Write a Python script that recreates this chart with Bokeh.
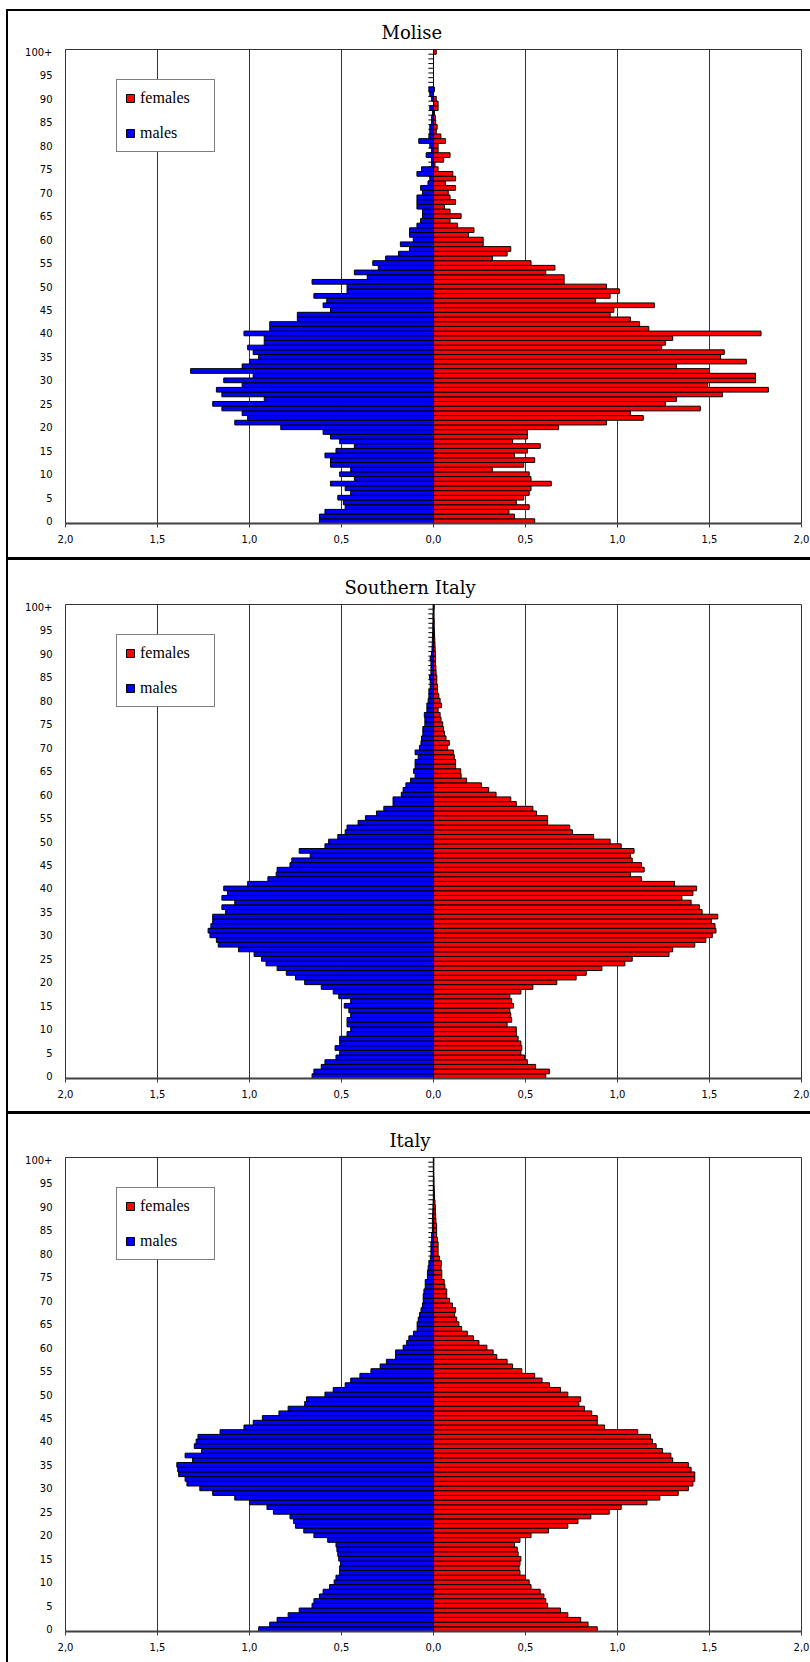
from bokeh.plotting import figure
from bokeh.models import Span, Legend, LegendItem, FixedTicker, ColumnDataSource, Range1d, Div, Spacer
from bokeh.layouts import column, row
from bokeh.embed import file_html
from bokeh.resources import INLINE

# ---------------- data ----------------
ages = list(range(101))
age_ticks = list(range(0, 101, 5))
age_tick_overrides = {100: "100+"}
x_ticks = [-2.0, -1.5, -1.0, -0.5, 0.0, 0.5, 1.0, 1.5, 2.0]
x_tick_labels = ["2,0", "1,5", "1,0", "0,5", "0,0", "0,5", "1,0", "1,5", "2,0"]
panel_titles = ["Molise", "Southern Italy", "Italy"]
series_labels = ["females", "males"]

molise_males = [
    0.62, 0.62, 0.59, 0.48, 0.49, 0.52, 0.45, 0.48, 0.56, 0.43,
    0.51, 0.45, 0.56, 0.56, 0.59, 0.53, 0.43, 0.51, 0.56, 0.60,
    0.83, 1.08, 1.01, 1.04, 1.15, 1.20, 0.92, 1.15, 1.18, 1.04,
    1.14, 0.98, 1.32, 1.04, 1.00, 0.95, 0.98, 1.01, 0.92, 0.92,
    1.03, 0.89, 0.89, 0.74, 0.74, 0.56, 0.60, 0.58, 0.65, 0.47,
    0.47, 0.66, 0.36, 0.43, 0.30, 0.33, 0.26, 0.19, 0.13, 0.18,
    0.11, 0.13, 0.13, 0.09, 0.07, 0.06, 0.06, 0.09, 0.09, 0.09,
    0.06, 0.07, 0.03, 0.02, 0.09, 0.065, 0.01, 0.01, 0.04, 0.01,
    0.02, 0.08, 0.025, 0.02, 0.02, 0.01, 0.01, 0.005, 0.02, 0.0,
    0.01, 0.02, 0.025, 0.0, 0.0, 0.0, 0.0, 0.0, 0.0, 0.0,
    0.0]
molise_females = [
    0.55, 0.44, 0.41, 0.52, 0.45, 0.49, 0.52, 0.53, 0.64, 0.53,
    0.52, 0.32, 0.49, 0.55, 0.44, 0.51, 0.58, 0.43, 0.51, 0.51,
    0.68, 0.94, 1.14, 1.07, 1.45, 1.26, 1.32, 1.57, 1.82, 1.49,
    1.75, 1.75, 1.50, 1.32, 1.70, 1.56, 1.58, 1.24, 1.26, 1.30,
    1.78, 1.17, 1.12, 1.07, 0.96, 0.98, 1.20, 0.88, 0.96, 1.01,
    0.94, 0.71, 0.71, 0.61, 0.66, 0.53, 0.32, 0.40, 0.42, 0.27,
    0.27, 0.19, 0.22, 0.13, 0.09, 0.15, 0.09, 0.06, 0.12, 0.09,
    0.08, 0.12, 0.065, 0.12, 0.105, 0.025, 0.008, 0.055, 0.09, 0.025,
    0.025, 0.065, 0.04, 0.015, 0.02, 0.012, 0.01, 0.005, 0.025, 0.025,
    0.015, 0.0, 0.005, 0.0, 0.0, 0.0, 0.0, 0.0, 0.0, 0.0,
    0.015]

south_males = [
    0.66, 0.65, 0.61, 0.59, 0.53, 0.51, 0.535, 0.51, 0.51, 0.47,
    0.45, 0.47, 0.47, 0.45, 0.46, 0.485, 0.45, 0.515, 0.545, 0.61,
    0.70, 0.75, 0.80, 0.85, 0.91, 0.935, 0.975, 1.06, 1.17, 1.18,
    1.215, 1.225, 1.21, 1.20, 1.20, 1.13, 1.15, 1.08, 1.15, 1.12,
    1.14, 1.01, 0.90, 0.855, 0.85, 0.78, 0.77, 0.67, 0.73, 0.59,
    0.57, 0.52, 0.48, 0.47, 0.41, 0.37, 0.31, 0.27, 0.22, 0.22,
    0.175, 0.165, 0.15, 0.125, 0.10, 0.108, 0.10, 0.10, 0.083, 0.10,
    0.076, 0.068, 0.065, 0.058, 0.058, 0.047, 0.047, 0.05, 0.036, 0.036,
    0.029, 0.025, 0.025, 0.018, 0.018, 0.022, 0.014, 0.014, 0.014, 0.018,
    0.011, 0.008, 0.007, 0.006, 0.005, 0.004, 0.004, 0.003, 0.003, 0.002,
    0.002]
south_females = [
    0.61, 0.63, 0.555, 0.51, 0.495, 0.475, 0.48, 0.475, 0.46, 0.45,
    0.45, 0.40, 0.425, 0.42, 0.415, 0.435, 0.425, 0.415, 0.475, 0.54,
    0.67, 0.775, 0.83, 0.915, 1.04, 1.08, 1.28, 1.30, 1.42, 1.48,
    1.515, 1.535, 1.53, 1.51, 1.545, 1.46, 1.445, 1.40, 1.35, 1.41,
    1.43, 1.31, 1.13, 1.07, 1.145, 1.13, 1.08, 1.07, 1.09, 1.02,
    0.96, 0.87, 0.755, 0.74, 0.62, 0.62, 0.56, 0.54, 0.45, 0.42,
    0.34, 0.30, 0.26, 0.18, 0.15, 0.148, 0.12, 0.12, 0.113, 0.108,
    0.077, 0.086, 0.068, 0.06, 0.054, 0.05, 0.041, 0.036, 0.025, 0.043,
    0.036, 0.029, 0.022, 0.022, 0.018, 0.018, 0.014, 0.013, 0.011, 0.011,
    0.011, 0.009, 0.008, 0.007, 0.006, 0.005, 0.004, 0.004, 0.003, 0.003,
    0.004]

italy_males = [
    0.95, 0.89, 0.85, 0.79, 0.73, 0.66, 0.65, 0.62, 0.60, 0.565,
    0.54, 0.53, 0.51, 0.51, 0.505, 0.515, 0.52, 0.525, 0.53, 0.575,
    0.65, 0.705, 0.75, 0.76, 0.78, 0.87, 0.905, 1.00, 1.08, 1.20,
    1.27, 1.34, 1.35, 1.385, 1.39, 1.395, 1.31, 1.35, 1.26, 1.30,
    1.29, 1.28, 1.16, 1.03, 0.98, 0.93, 0.84, 0.79, 0.70, 0.69,
    0.59, 0.545, 0.48, 0.45, 0.40, 0.34, 0.29, 0.256, 0.206, 0.206,
    0.165, 0.146, 0.134, 0.109, 0.089, 0.089, 0.083, 0.076, 0.068, 0.06,
    0.056, 0.056, 0.052, 0.045, 0.045, 0.033, 0.033, 0.029, 0.025, 0.017,
    0.014, 0.014, 0.014, 0.01, 0.01, 0.006, 0.006, 0.006, 0.005, 0.004,
    0.003, 0.002, 0.001, 0.001, 0.001, 0.001, 0.001, 0.001, 0.001, 0.001,
    0.001]
italy_females = [
    0.89, 0.84, 0.80, 0.73, 0.69, 0.62, 0.61, 0.60, 0.58, 0.53,
    0.52, 0.50, 0.47, 0.465, 0.47, 0.475, 0.46, 0.455, 0.44, 0.47,
    0.53, 0.625, 0.73, 0.785, 0.855, 0.955, 1.02, 1.16, 1.23, 1.33,
    1.385, 1.41, 1.42, 1.42, 1.40, 1.385, 1.30, 1.29, 1.245, 1.21,
    1.19, 1.18, 1.11, 0.93, 0.89, 0.89, 0.86, 0.82, 0.79, 0.80,
    0.73, 0.69, 0.63, 0.59, 0.55, 0.48, 0.43, 0.40, 0.344, 0.324,
    0.29, 0.247, 0.217, 0.184, 0.153, 0.138, 0.126, 0.115, 0.12, 0.103,
    0.087, 0.072, 0.072, 0.062, 0.058, 0.045, 0.045, 0.041, 0.043, 0.033,
    0.025, 0.025, 0.025, 0.021, 0.017, 0.017, 0.017, 0.013, 0.012, 0.01,
    0.01, 0.008, 0.006, 0.005, 0.004, 0.003, 0.003, 0.002, 0.002, 0.002,
    0.002]

# ---------------- style ----------------
FEMALE_COLOR = "#ff0000"
MALE_COLOR = "#0000ff"
TICK_FONT = "DejaVu Sans"
TITLE_FONT = "DejaVu Serif"
LEGEND_FONT = "Liberation Serif"
FIG_W = 802
# left offsets (px from frame left) that centre each title over the chart area
TITLE_OFFSETS = [316, 279, 324]


def black_bar(w, h):
    return Div(text="", width=w, height=h, margin=0,
               styles={"background-color": "black", "margin": "0", "padding": "0"})


def make_panel(title, title_offset, males, females, height, top, bottom):
    p = figure(width=FIG_W, height=height, toolbar_location=None, output_backend="svg",
               x_range=Range1d(-2, 2), y_range=Range1d(-0.5, 100.5),
               min_border_left=57, min_border_right=9,
               min_border_top=top, min_border_bottom=bottom,
               background_fill_color="white", border_fill_color="white",
               outline_line_color="#333333", outline_line_width=1)

    p.title.text = title
    p.title.align = "left"
    p.title.offset = title_offset
    p.title.text_font = TITLE_FONT
    p.title.text_font_size = "18px"
    p.title.text_font_style = "normal"
    p.title.text_color = "black"
    p.title.standoff = 13

    # x axis (absolute values, comma decimal)
    p.xaxis.ticker = FixedTicker(ticks=x_ticks)
    p.xaxis.major_label_overrides = dict(zip(x_ticks, x_tick_labels))
    p.xaxis.axis_line_color = "#404040"
    p.xaxis.axis_line_width = 2
    p.xaxis.major_tick_out = 4
    p.xaxis.major_tick_in = 0
    p.xaxis.major_tick_line_color = "#404040"
    p.xaxis.minor_tick_line_color = None
    p.xaxis.major_label_standoff = 7
    p.xaxis.major_label_text_font = TICK_FONT
    p.xaxis.major_label_text_font_size = "10px"
    p.xaxis.major_label_text_color = "black"

    # y axis (ages)
    p.yaxis.ticker = FixedTicker(ticks=age_ticks)
    p.yaxis.major_label_overrides = age_tick_overrides
    p.yaxis.axis_line_color = None
    p.yaxis.major_tick_line_color = None
    p.yaxis.minor_tick_line_color = None
    p.yaxis.major_label_standoff = 7
    p.yaxis.major_label_text_font = TICK_FONT
    p.yaxis.major_label_text_font_size = "10px"
    p.yaxis.major_label_text_color = "black"

    p.xgrid.grid_line_color = "#333333"
    p.xgrid.grid_line_width = 1
    p.ygrid.grid_line_color = None

    # category tick marks on the central axis
    bounds = [a - 0.5 for a in ages[1:]]
    tick_len = 0.028
    p.segment(x0=[-tick_len] * len(bounds), x1=[0] * len(bounds), y0=bounds, y1=bounds,
              line_color="black", line_width=1)

    src = ColumnDataSource(dict(age=ages, f=females, m=[-v for v in males]))
    r_f = p.hbar(y="age", left=0, right="f", height=1, source=src,
                 fill_color=FEMALE_COLOR, line_color="black", line_width=1)
    r_m = p.hbar(y="age", left="m", right=0, height=1, source=src,
                 fill_color=MALE_COLOR, line_color="black", line_width=1)

    p.add_layout(Span(location=0, dimension="height", line_color="black", line_width=1))

    legend = Legend(items=[LegendItem(label=series_labels[0], renderers=[r_f]),
                           LegendItem(label=series_labels[1], renderers=[r_m])],
                    location=(51, 371), orientation="vertical",
                    glyph_width=10, glyph_height=10, label_standoff=5,
                    label_width=66, label_height=20, spacing=15, padding=8, margin=0,
                    border_line_color="black", border_line_width=1.5,
                    background_fill_color="white", background_fill_alpha=1,
                    label_text_font=LEGEND_FONT, label_text_font_size="16px",
                    label_text_color="black")
    p.add_layout(legend)
    return p


p1 = make_panel(panel_titles[0], TITLE_OFFSETS[0], molise_males, molise_females, 546, 38, 34)
p2 = make_panel(panel_titles[1], TITLE_OFFSETS[1], south_males, south_females, 551, 44, 33)
p3 = make_panel(panel_titles[2], TITLE_OFFSETS[2], italy_males, italy_females, 548, 43, 31)

inner = column(black_bar(FIG_W, 2), p1, black_bar(FIG_W, 3), p2, black_bar(FIG_W, 3), p3,
               spacing=0)
body = row(Spacer(width=6, height=1653), black_bar(2, 1653), inner, spacing=0)
layout = column(Spacer(width=810, height=9), body, spacing=0)

open("out.html", "w").write(file_html(layout, INLINE))
